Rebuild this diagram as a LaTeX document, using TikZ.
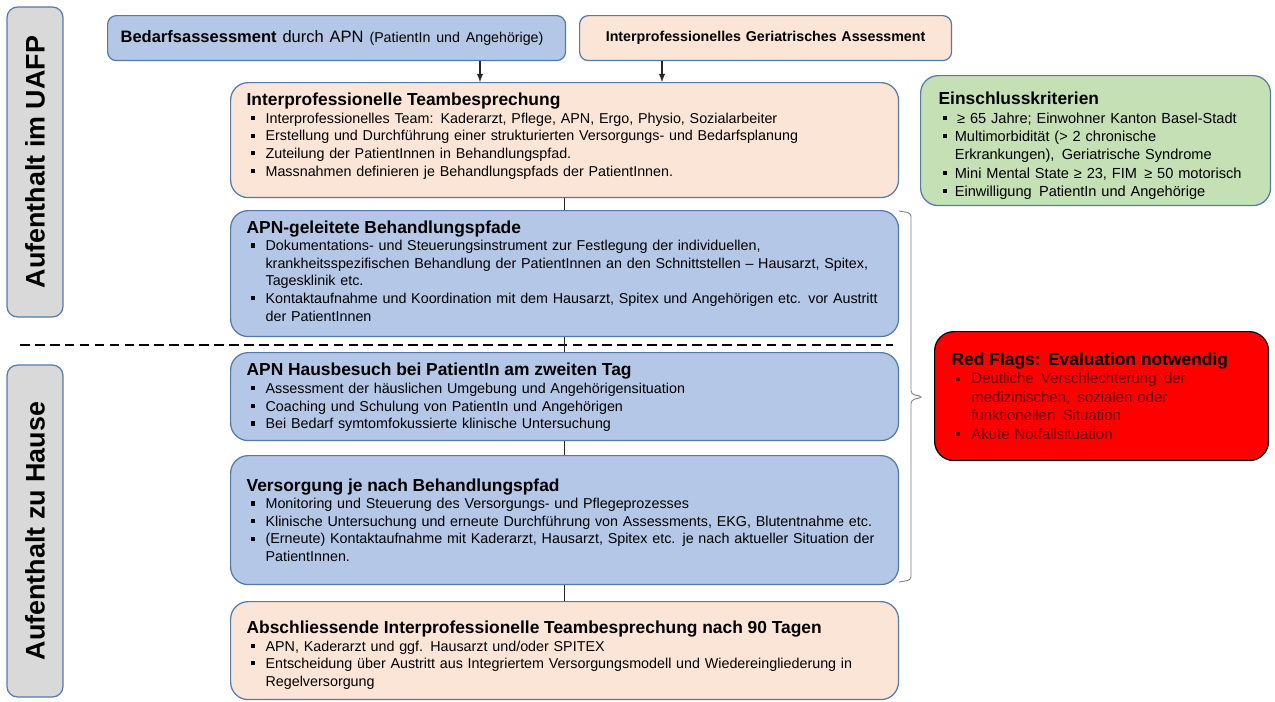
\documentclass[tikz,border=0pt]{standalone}
\usepackage{fontspec}
\setmainfont{Liberation Sans}

\definecolor{apnblue}{RGB}{180,199,231}
\definecolor{teampeach}{RGB}{251,229,214}
\definecolor{critgreen}{RGB}{197,224,180}
\definecolor{phasegray}{RGB}{217,217,217}
\definecolor{boxline}{RGB}{84,122,170}
\definecolor{flagtext}{RGB}{105,0,0}

\newcommand{\ttl}[1]{{\fontsize{9.9}{11}\selectfont\bfseries #1}\par}
\newcommand{\bul}[1][10.8pt]{\par\noindent\hangindent=#1\hangafter=1%
  \makebox[#1][l]{\hspace{2.4pt}\rule[1.8pt]{2.4pt}{2.4pt}}\ignorespaces}
% extra space under the last line, moves the text block up (or down if negative)
\newcommand{\lift}[1]{\par\vspace{#1}\hrule height 0pt}

\begin{document}
\begin{tikzpicture}[x=0.02cm,y=-0.02cm,
  box/.style={draw=boxline, line width=0.7pt, rounded corners=10pt, anchor=north west,
    align=left, inner xsep=0.32cm, text width=12.72cm, minimum width=13.36cm,
    font=\fontsize{8.15}{10}\selectfont},
  topbox/.style={draw=boxline, line width=0.7pt, rounded corners=5pt, anchor=north west,
    minimum height=0.9cm, inner xsep=0.26cm},
  sidebox/.style={draw=boxline, line width=0.7pt, rounded corners=10pt, anchor=north west,
    align=left},
  phase/.style={draw=boxline, line width=0.7pt, rounded corners=6pt, fill=phasegray,
    rotate=90, minimum height=1.12cm, font=\fontsize{15.3}{17}\selectfont\bfseries},
  link/.style={draw=black!85, line width=0.6pt},
  flow/.style={link, -latex}]
\useasboundingbox (0,0) rectangle (1275,701);

%phases
\node[phase, minimum width=6.2cm] (uafp) at (35,162) {Aufenthalt im UAFP};
\node[phase, minimum width=6.64cm] (hause) at (35,531) {Aufenthalt zu Hause};
\draw[line width=1.1pt, dash pattern=on 5.5pt off 3pt] (20,345) -- (893,345);

%assessments
\node[topbox, fill=apnblue, text width=8.64cm, align=left] (bedarf) at (107,15)
  {{\fontsize{9.4}{11}\selectfont\bfseries Bedarfsassessment} {\fontsize{9.4}{11}\selectfont durch APN}
   {\fontsize{8.1}{9}\selectfont (PatientIn und Angehörige)}};
\node[topbox, fill=teampeach, text width=6.92cm, align=center,
  font=\fontsize{8.1}{9}\selectfont\bfseries] (geri) at (579,15)
  {Interprofessionelles Geriatrisches Assessment};

%pathway
\node[box, fill=teampeach, minimum height=2.3cm] (team) at (230,82) {%
  \ttl{Interprofessionelle Teambesprechung}
  \bul Interprofessionelles Team: Kaderarzt, Pflege, APN, Ergo, Physio, Sozialarbeiter
  \bul Erstellung und Durchführung einer strukturierten Versorgungs- und Bedarfsplanung
  \bul Zuteilung der PatientInnen in Behandlungspfad.
  \bul Massnahmen definieren je Behandlungspfads der PatientInnen.\lift{4.5pt}};
\node[box, fill=apnblue, minimum height=2.52cm] (pfade) at (230,210) {%
  \ttl{APN-geleitete Behandlungspfade}
  \bul Dokumentations- und Steuerungsinstrument zur Festlegung der individuellen,\newline
  krankheitsspezifischen Behandlung der PatientInnen an den Schnittstellen – Hausarzt, Spitex,\newline
  Tagesklinik etc.
  \bul Kontaktaufnahme und Koordination mit dem Hausarzt, Spitex und Angehörigen etc. vor Austritt\newline
  der PatientInnen\lift{3pt}};
\node[box, fill=apnblue, minimum height=1.76cm] (besuch) at (230,352) {%
  \ttl{APN Hausbesuch bei PatientIn am zweiten Tag}
  \bul Assessment der häuslichen Umgebung und Angehörigensituation
  \bul Coaching und Schulung von PatientIn und Angehörigen
  \bul Bei Bedarf symtomfokussierte klinische Untersuchung\lift{-1pt}};
\node[box, fill=apnblue, minimum height=2.58cm] (versorgung) at (230,455) {%
  \ttl{Versorgung je nach Behandlungspfad}
  \bul Monitoring und Steuerung des Versorgungs- und Pflegeprozesses
  \bul Klinische Untersuchung und erneute Durchführung von Assessments, EKG, Blutentnahme etc.
  \bul (Erneute) Kontaktaufnahme mit Kaderarzt, Hausarzt, Spitex etc. je nach aktueller Situation der\newline
  PatientInnen.\lift{0pt}};
\node[box, fill=teampeach, minimum height=1.96cm] (abschluss) at (230,601) {%
  \ttl{Abschliessende Interprofessionelle Teambesprechung nach 90 Tagen}
  \bul APN, Kaderarzt und ggf. Hausarzt und/oder SPITEX
  \bul Entscheidung über Austritt aus Integriertem Versorgungsmodell und Wiedereingliederung in\newline
  Regelversorgung\lift{-5pt}};

%criteria and red flags
\node[sidebox, fill=critgreen, inner xsep=0.36cm, text width=6.28cm, minimum width=7cm,
  minimum height=2.6cm, font=\fontsize{8.3}{10.4}\selectfont] (kriterien) at (920,75) {%
  \ttl{Einschlusskriterien}
  \bul[9.2pt] \,≥ 65 Jahre; Einwohner Kanton Basel-Stadt
  \bul[9.2pt] Multimorbidität (> 2 chronische\newline
  Erkrankungen),\, Geriatrische Syndrome
  \bul[9.2pt] Mini Mental State ≥ 23, FIM\, ≥ 50 motorisch
  \bul[9.2pt] Einwilligung\, PatientIn und Angehörige\lift{-6pt}};
\node[sidebox, draw=black, fill=red, rounded corners=11pt, inner xsep=0.34cm, text width=6cm,
  minimum width=6.68cm, minimum height=2.58cm,
  font=\fontsize{8.5}{10.5}\selectfont] (flags) at (934,331) {%
  \ttl{Red Flags: Evaluation notwendig}
  \color{flagtext}
  \bul[11.3pt] Deutliche\, Verschlechterung\, der\newline
  medizinischen,\, sozialen oder\newline
  funktionellen\, Situation
  \bul[11.3pt] Akute Notfallsituation\lift{0pt}};

%connectors
\coordinate (a1) at (480,0);
\coordinate (a2) at (662,0);
\draw[flow] (bedarf.south -| a1) -- (team.north -| a1);
\draw[flow] (geri.south -| a2) -- (team.north -| a2);
\draw[link] (team) -- (pfade);
\draw[link] (pfade) -- (besuch);
\draw[link] (besuch) -- (versorgung);
\draw[link] (versorgung) -- (abschluss);
%bracket to red flags
\draw[gray, line width=0.5pt, rounded corners=2pt] (899,211) -- (911,213) -- (911,394)
  -- (923,397) -- (911,400) -- (911,580) -- (899,582);
\end{tikzpicture}
\end{document}
